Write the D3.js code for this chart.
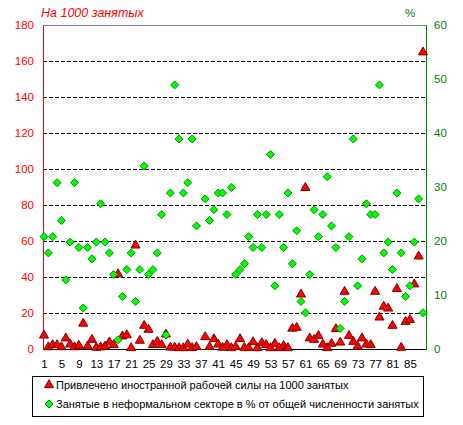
<!DOCTYPE html>
<html><head><meta charset="utf-8">
<script src="https://cdn.jsdelivr.net/npm/d3@7"></script>
<style>body{margin:0;background:#fff}svg{display:block}text{font-family:"Liberation Sans",Arial,sans-serif}</style>
</head><body>
<svg id="c" width="463" height="425"></svg>
<script>
const categories = d3.range(1, 89);
const xTickLabels = [1,5,9,13,17,21,25,29,33,37,41,45,49,53,57,61,65,69,73,77,81,85];
const leftTicks = [0,20,40,60,80,100,120,140,160,180];
const rightTicks = [0,10,20,30,40,50,60];
const seriesNames = ["Привлечено иностранной рабочей силы на 1000 занятых",
  "Занятые в неформальном секторе в % от общей численности занятых"];
// per 1000 employed (left axis)
const foreignLabour = [7,0.5,1.7,1.7,0.5,5.4,2,0.5,1.3,13.6,
  1,4.6,0.2,0.4,0.9,3.2,1.7,41,6.5,7.2,
  0,57,4.1,12.4,10.2,1.7,3.5,1.7,7.6,0.3,
  0.3,0,0,2,0,0.6,null,6.1,0.6,5,
  2,0.2,1.7,0,0.6,5,0.2,0,3.3,0,
  2.8,1.7,0,2.4,0,1.3,0,10.8,11.3,29.8,
  89,5.4,4.6,6.8,2,0,2.4,10.6,3.1,31.3,
  6.8,3.5,0.9,5.4,2,1.7,31.3,17,23,22,
  12.4,32.8,0.2,14.6,15.7,35.4,50.9,164.3];
// informal sector % (right axis)
const informalShare = [20.8,17.8,20.8,30.8,23.8,12.8,19.8,30.8,18.8,7.6,
  18.8,16.7,19.8,26.9,19.8,17.8,13.8,1.7,9.7,14.7,
  17.8,8.8,14.7,33.9,13.8,14.7,17.8,24.9,2.6,28.9,
  48.9,38.9,28.9,30.8,38.9,22.8,null,27.8,23.8,25.8,
  28.9,28.9,24.9,29.9,13.8,14.7,15.8,20.8,18.8,24.9,
  18.8,24.9,36.0,11.7,24.9,18.8,28.9,15.8,21.9,8.8,
  6.7,13.8,25.8,20.8,24.9,31.9,22.8,18.8,3.8,8.8,
  20.8,38.9,11.7,16.7,26.9,24.9,24.9,48.9,17.8,19.8,
  14.7,28.9,17.8,9.7,11.7,19.8,27.8,6.7];

const svg = d3.select("#c");
const L = 43, R = 426, T = 25, B = 349;
const x = d3.scaleLinear().domain([1, 88]).range([44, 423]);
const yL = d3.scaleLinear().domain([0, 180]).range([B, T]);
const yR = d3.scaleLinear().domain([0, 60]).range([B, T]);

// gridlines
svg.append("g").selectAll("line").data(leftTicks.filter(d => d > 0 && d < 180)).join("line")
  .attr("x1", L).attr("x2", R).attr("y1", d => yL(d) + 0.5).attr("y2", d => yL(d) + 0.5)
  .attr("stroke", "#000").attr("stroke-dasharray", "4,2");
// top border
svg.append("line").attr("x1", L).attr("x2", R).attr("y1", T + 0.5).attr("y2", T + 0.5).attr("stroke", "#808080");
// bottom axis
svg.append("line").attr("x1", L).attr("x2", R + 1).attr("y1", B + 0.5).attr("y2", B + 0.5).attr("stroke", "#000");
// left axis
svg.append("line").attr("x1", L + 0.5).attr("x2", L + 0.5).attr("y1", T).attr("y2", B + 1).attr("stroke", "#f00");
// right axis
svg.append("line").attr("x1", R + 0.5).attr("x2", R + 0.5).attr("y1", T).attr("y2", B + 1).attr("stroke", "#008000");

const axL = svg.append("g").attr("transform", `translate(${L - 9},0)`)
  .call(d3.axisLeft(yL).tickValues(leftTicks).tickSize(0).tickPadding(0));
axL.select(".domain").remove();
axL.selectAll("text").attr("fill", "#f00").style("font-size", "11.5px");

const axR = svg.append("g").attr("transform", `translate(${R + 8},0)`)
  .call(d3.axisRight(yR).tickValues(rightTicks).tickSize(0).tickPadding(0));
axR.select(".domain").remove();
axR.selectAll("text").attr("fill", "#008000").style("font-size", "11.5px");

const axB = svg.append("g").attr("transform", `translate(0,${B + 11})`)
  .call(d3.axisBottom(x).tickValues(xTickLabels).tickFormat(d3.format("d")).tickSize(0).tickPadding(0));
axB.select(".domain").remove();
axB.selectAll("text").attr("fill", "#000").style("font-size", "11.5px");

// titles
svg.append("text").attr("x", 41).attr("y", 17).attr("fill", "#f00").style("font-size", "12.5px")
  .style("font-style", "italic").text("На 1000 занятых");
svg.append("text").attr("x", 410).attr("y", 17).attr("fill", "#008000").style("font-size", "11.5px")
  .attr("text-anchor", "middle").text("%");

const tri = d3.symbol().type(d3.symbolTriangle).size(36);
const dia = (cx, cy) => `M${cx},${cy-4}L${cx+4},${cy}L${cx},${cy+4}L${cx-4},${cy}Z`;

// red triangles
svg.append("g").selectAll("path").data(categories.map((c, i) => [c, foreignLabour[i]]).filter(d => d[1] != null))
  .join("path").attr("d", tri)
  .attr("transform", d => `translate(${x(d[0])},${yL(d[1]) - 1})`)
  .attr("fill", "#f00").attr("stroke", "#800000").attr("stroke-width", 1);
// green diamonds
svg.append("g").selectAll("path").data(categories.map((c, i) => [c, informalShare[i]]).filter(d => d[1] != null))
  .join("path").attr("d", d => dia(x(d[0]), yR(d[1])))
  .attr("fill", "#00ff00").attr("stroke", "#009000").attr("stroke-width", 1);

// legend
const lg = svg.append("g");
lg.append("rect").attr("x", 32.5).attr("y", 376.5).attr("width", 391).attr("height", 40)
  .attr("fill", "#fff").attr("stroke", "#000");
lg.append("path").attr("d", tri).attr("transform", "translate(49,385)")
  .attr("fill", "#f00").attr("stroke", "#800000");
lg.append("path").attr("d", dia(49, 404)).attr("fill", "#00ff00").attr("stroke", "#009000");
lg.append("text").attr("x", 56).attr("y", 389).style("font-size", "11px").text(seriesNames[0]);
lg.append("text").attr("x", 56).attr("y", 408).style("font-size", "11px").text(seriesNames[1]);
</script>
</body></html>
